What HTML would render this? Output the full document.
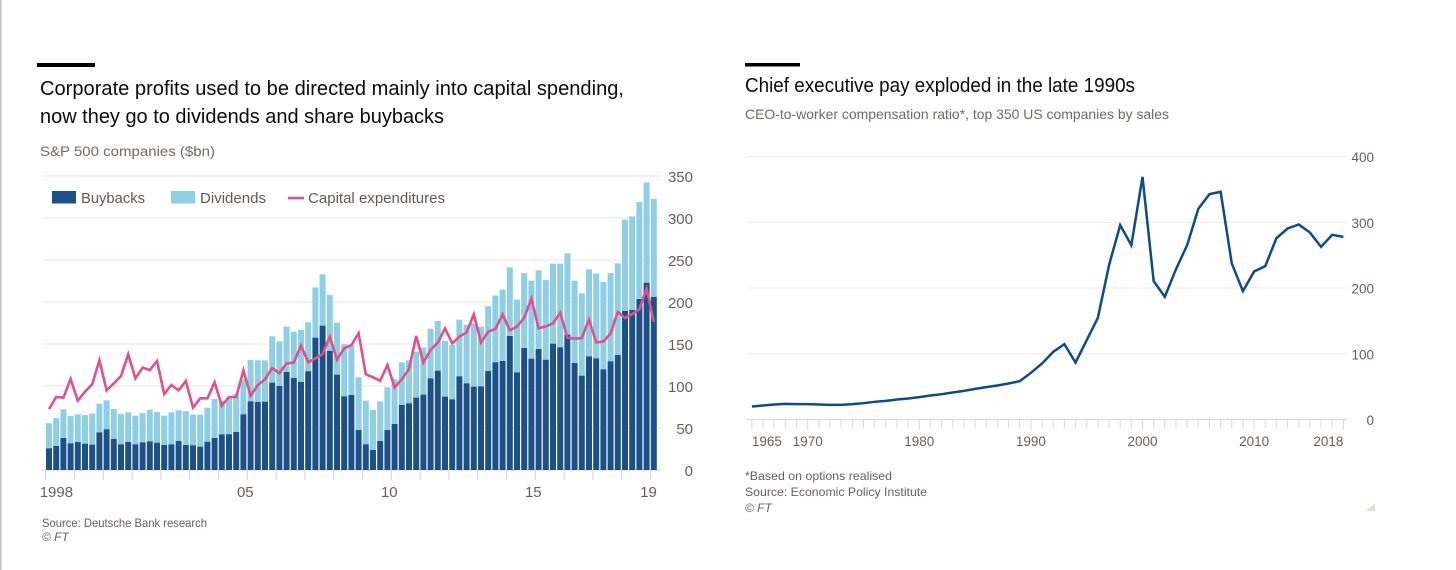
<!DOCTYPE html>
<html lang="en">
<head>
<meta charset="utf-8">
<title>FT charts</title>
<style>
html,body{margin:0;padding:0;background:#fff;width:1456px;height:570px;overflow:hidden}
svg{display:block;font-family:"Liberation Sans",sans-serif}
.title{font-size:20px;fill:#0b0b0b}
.sub{font-size:14px;fill:#6f6a67}
.src{font-size:12px;fill:#66605c}
.tickl{font-size:15px;fill:#66605c}
.tickr{font-size:13.5px;fill:#66605c}
.leg{font-size:15px;fill:#5f5a58}
</style>
</head>
<body>
<svg id="root" width="1456" height="570" viewBox="0 0 1456 570" xmlns="http://www.w3.org/2000/svg">
  <rect x="0" y="0" width="1456" height="570" fill="#fff"/>
  <rect x="0" y="0" width="1.5" height="570" fill="#bdbdbd"/>

  <rect x="37" y="63" width="58" height="4" fill="#000"/>
  <text class="title" x="40" y="95" textLength="584" lengthAdjust="spacingAndGlyphs">Corporate profits used to be directed mainly into capital spending,</text>
  <text class="title" x="40" y="123" textLength="404" lengthAdjust="spacingAndGlyphs">now they go to dividends and share buybacks</text>
  <text class="sub" x="40" y="156" textLength="175" lengthAdjust="spacingAndGlyphs">S&amp;P 500 companies ($bn)</text>

  <g id="left-grid"></g>
  <g id="left-bars"></g>
  <g id="left-line"></g>
  <g id="left-axis"></g>

  <g>
    <g>
      <rect x="52" y="191" width="24" height="12.5" fill="#1c5088"/>
      <text class="leg" x="81" y="203" textLength="64" lengthAdjust="spacingAndGlyphs">Buybacks</text>
    </g>
    <g>
      <rect x="171" y="191" width="24" height="12.5" fill="#8fcfe5"/>
      <text class="leg" x="200" y="203" textLength="66" lengthAdjust="spacingAndGlyphs">Dividends</text>
    </g>
    <g>
      <line x1="288" x2="304" y1="198" y2="198" stroke="#e2508c" stroke-width="2.6"/>
      <text class="leg" x="308" y="203" textLength="137" lengthAdjust="spacingAndGlyphs">Capital expenditures</text>
    </g>
  </g>

  <text class="src" x="42" y="527" textLength="165" lengthAdjust="spacingAndGlyphs">Source: Deutsche Bank research</text>
  <text class="src" x="42" y="541" font-style="italic">© FT</text>

  <rect x="745" y="63" width="55" height="3.5" fill="#000"/>
  <text class="title" x="745" y="92" textLength="390" lengthAdjust="spacingAndGlyphs">Chief executive pay exploded in the late 1990s</text>
  <text class="sub" x="745" y="119" textLength="424" lengthAdjust="spacingAndGlyphs">CEO-to-worker compensation ratio*, top 350 US companies by sales</text>

  <g id="right-grid"></g>
  <g id="right-axis"></g>
  <g id="right-line"></g>

  <text class="src" x="745" y="480" textLength="147" lengthAdjust="spacingAndGlyphs">*Based on options realised</text>
  <text class="src" x="745" y="496" textLength="182" lengthAdjust="spacingAndGlyphs">Source: Economic Policy Institute</text>
  <text class="src" x="745" y="512" font-style="italic">© FT</text>
  <polygon points="1375,503 1375,511 1366,511" fill="#e0dcd0"/>
</svg>

<script>
var leftYearStart = 1998;
var leftYTicks = [0, 50, 100, 150, 200, 250, 300, 350];
var leftTickYears = [1998, 1999, 2000, 2001, 2002, 2003, 2004, 2005, 2006, 2007, 2008, 2009, 2010, 2011, 2012, 2013, 2014, 2015, 2016, 2017, 2018, 2019];
var leftLabelYears = [1998, 2005, 2010, 2015, 2019];
var leftLabelText = ['1998', '05', '10', '15', '19'];
var buybacks = [25.8,28.6,38.1,31.7,33.3,31.3,30.2,44.8,48.4,36.9,30.6,33.3,30.6,32.9,34.1,32.5,29.8,30.6,34.5,29.8,29.4,27.8,33.7,38.1,42.5,42.5,45.2,66.3,81.7,81,81.3,104,100,116.7,109.5,104.8,117.5,157.5,171.8,141.7,113.5,87.7,89.3,47.6,30.6,23.8,34.5,47.6,54.8,77.4,79.4,86.1,89.7,109.1,118.3,87.3,84.1,111.5,103.2,99.2,99.6,117.9,128.2,129.8,159.5,116.3,145.2,132.5,144,131.3,150.4,146,161.1,127.4,112.3,135.3,132.9,119.8,129.4,136.9,189.3,190.5,203.6,223,206];
var dividends = [29.8,33.3,34.1,32.5,32.9,34.1,36.9,34.1,34.5,35.7,36.1,35.3,34.1,34.9,37.7,36.5,34.9,38.1,36.5,40.1,36.5,38.1,40.5,46.4,39.7,43.7,45.6,41.7,49.2,49.6,49.2,55.2,53.2,54,54.8,61.9,58.3,59.9,61.1,66.7,61.9,61.9,59.5,62.7,52,47.6,47.2,50.8,53.2,50.8,51.2,54.8,56,59.1,59.1,66.3,64.7,67.5,69.8,75.4,71,77,79.4,84.9,81.7,86.5,89.3,92.9,93.7,94.8,95.2,99.6,96.8,98,98,103.6,100.8,104,105.2,109.1,108.7,111.5,115.5,119.4,116.7];
var capex = [72.6,86.9,86.1,108.3,82.5,93.3,102,130.6,94.8,103.2,111.9,137.7,109.1,121.8,119,129.8,90.5,101.2,94.8,106,74.2,85.3,85.3,104.4,76.6,86.9,86.9,118.7,88.5,101.2,107.9,121.4,115.1,127,127.8,148,128.2,132.9,138.1,158.7,131.3,144.8,148.8,162.7,113.9,110.3,106.3,125,98.4,107.9,120.2,159.5,127.8,142.9,151.6,168.7,150.8,158.7,163.9,185.3,152,164.7,167.9,185.3,166.3,170.6,181.3,204,168.7,171,174.6,187.3,157.5,156.3,157.1,179,152,152.8,162.7,188.1,181,185.7,191.3,215.9,176.2];

var rightYTicks = [0, 100, 200, 300, 400];
var rightLabelYears = [1965, 1970, 1980, 1990, 2000, 2010, 2018];
var ratioYears = [1965,1966,1967,1968,1969,1970,1971,1972,1973,1974,1975,1976,1977,1978,1979,1980,1981,1982,1983,1984,1985,1986,1987,1988,1989,1990,1991,1992,1993,1994,1995,1996,1997,1998,1999,2000,2001,2002,2003,2004,2005,2006,2007,2008,2009,2010,2011,2012,2013,2014,2015,2016,2017,2018];
var ratioValues = [19.8,21.3,22.8,23.8,23.3,23.3,22.8,22.3,22.3,23.3,24.8,26.9,28.4,30.4,31.9,34,36.5,38.5,41,43.6,46.6,49.2,51.7,54.8,58.3,71,85.2,102.9,114.6,86.7,120.7,154.6,234.7,295.6,265.1,369,210.4,186.6,228.6,265.1,320.4,342.7,346.3,237.3,195.2,225.1,233.2,275.8,290.5,296.6,284.4,262.6,280.9,277.8];

var NS = 'http://www.w3.org/2000/svg';
function mk(parent, tag, attrs, text) {
  var el = document.createElementNS(NS, tag);
  for (var k in attrs) { el.setAttribute(k, attrs[k]); }
  if (text !== undefined) { el.textContent = text; }
  parent.appendChild(el);
  return el;
}
function leftY(v) { return 470 - v * 0.84; }
function leftX(i) { return 49 + 7.2 * i; }
function leftYearX(year) { return leftX((year - leftYearStart) * 4) - 3.3; }
function rightY(v) { return 419.5 - v * 0.6575; }
function rightX(year) { return 751.9 + (year - 1965) * 11.16; }

var leftGrid = document.getElementById('left-grid');
leftYTicks.forEach(function (t) {
  var col = t === 0 ? '#cfcfcf' : (t === 250 || t === 200 ? '#f0e3da' : '#e6e4e3');
  var g = mk(leftGrid, 'line', {x1: 42, x2: 662, y1: leftY(t), y2: leftY(t), stroke: col, 'stroke-width': 1});
  
  
});

var leftBars = document.getElementById('left-bars');
buybacks.forEach(function (b, i) {
  var d = dividends[i];
  var top = mk(leftBars, 'rect', {x: leftX(i) - 3, y: leftY(b + d), width: 6, height: leftY(b) - leftY(b + d), fill: '#8fcfe5'});
  
  
  var bot = mk(leftBars, 'rect', {x: leftX(i) - 3, y: leftY(b), width: 6, height: leftY(0) - leftY(b), fill: '#1c5088'});
  
  
});

var leftLine = document.getElementById('left-line');
var capexPath = mk(leftLine, 'polyline', {
  points: capex.map(function (v, i) { return leftX(i) + ',' + leftY(v); }).join(' '),
  fill: 'none', stroke: '#e2508c', 'stroke-width': 2.6, 'stroke-linejoin': 'miter'
});



var leftAxis = document.getElementById('left-axis');
leftTickYears.forEach(function (y) {
  var t = mk(leftAxis, 'line', {x1: leftYearX(y), x2: leftYearX(y), y1: 470, y2: 480, stroke: '#d2d2d2', 'stroke-width': 1});
  
  
});
leftLabelYears.forEach(function (y, i) {
  var first = i === 0;
  var lab = mk(leftAxis, 'text', {x: first ? leftYearX(y) - 6 : leftYearX(y) - 2, y: 497, 'class': 'tickl', 'text-anchor': first ? 'start' : 'middle'}, leftLabelText[i]);
  
  
});
leftYTicks.forEach(function (t) {
  var lab = mk(leftAxis, 'text', {x: 693, y: leftY(t) + 6, 'class': 'tickl', 'text-anchor': 'end'}, String(t));
  
  
});

var rightGrid = document.getElementById('right-grid');
rightYTicks.forEach(function (t) {
  var g = mk(rightGrid, 'line', {x1: 747, x2: 1347.5, y1: rightY(t), y2: rightY(t), stroke: t === 0 ? '#d4d4d4' : '#ebebeb', 'stroke-width': 1});
  
  
});

var rightAxis = document.getElementById('right-axis');
ratioYears.forEach(function (y) {
  var isMajor = rightLabelYears.indexOf(y) >= 0;
  var t = mk(rightAxis, 'line', {x1: rightX(y), x2: rightX(y), y1: 419.5, y2: isMajor ? 430 : 428, stroke: '#d8d8d8', 'stroke-width': 1});
  
  
});
rightLabelYears.forEach(function (y, i) {
  var anchor = i === 0 ? 'start' : (i === rightLabelYears.length - 1 ? 'end' : 'middle');
  var lab = mk(rightAxis, 'text', {x: rightX(y), y: 446, 'class': 'tickr', 'text-anchor': anchor}, String(y));
  
  
});
rightYTicks.forEach(function (t) {
  var lab = mk(rightAxis, 'text', {x: 1374, y: rightY(t) + 5.5, 'class': 'tickr', 'text-anchor': 'end'}, String(t));
  
  
});

var rightLine = document.getElementById('right-line');
var ratioPath = mk(rightLine, 'polyline', {
  points: ratioValues.map(function (v, i) { return rightX(ratioYears[i]) + ',' + rightY(v); }).join(' '),
  fill: 'none', stroke: '#0d4a8f', 'stroke-width': 2.5, 'stroke-linejoin': 'miter'
});


</script>
</body>
</html>
